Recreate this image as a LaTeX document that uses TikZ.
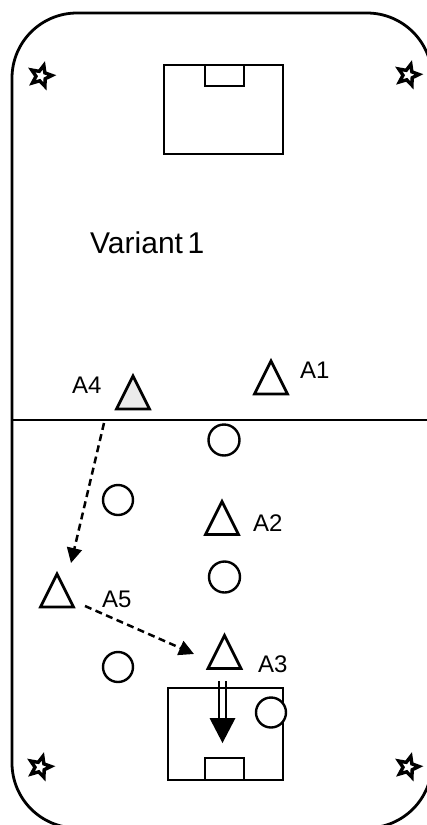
\documentclass[tikz,border=0pt]{standalone}
\usepackage{fontspec}
\setmainfont{Liberation Sans}
\usetikzlibrary{arrows.meta,shapes.geometric}
\begin{document}
\begin{tikzpicture}[x=1pt,y=-1pt,
  thickline/.style={line width=2.8pt},
  boxline/.style={line width=2.8pt, line join=miter},
  player/.style={line width=2.4pt},
  corner/.style={star, star points=5, star point ratio=2.2, draw, fill=white,
    line width=3.4pt, inner sep=0pt, minimum size=22pt, shape border rotate=-15},
  lbl/.style={font=\fontsize{24}{28}\selectfont, anchor=base west, inner sep=0pt},
  pass/.style={line width=2.5pt, dash pattern=on 7pt off 4.5pt,
    -{Triangle[length=15pt,width=15pt]}},
  tri/.pic={\draw[line width=2.7pt, line join=miter, fill=#1]
     (-16.5,16.5) -- (0,-16.5) -- (16.5,16.5) -- cycle;}
]
\useasboundingbox (0,0) rectangle (427,825);
% field
\draw[thickline, rounded corners=65pt] (12,13) rectangle (432,828);
\draw[thickline] (12,420) -- (432,420);
% goal areas
\draw[boxline] (164,65) rectangle (283,154);
\draw[boxline] (205,65) rectangle (244,86);
\draw[boxline] (168,688) rectangle (283,780);
\draw[boxline] (205,758) rectangle (244,780);
% corner stars
\node[corner] (s1) at (41,76) {};
\node[corner] (s2) at (408,75) {};
\node[corner] (s3) at (40,767) {};
\node[corner] (s4) at (408,767) {};
% title
\node[font=\fontsize{30}{36}\selectfont, anchor=base west, inner sep=0pt] (title) at (90,253) {Variant\kern-0.12em\ 1};
% opponents (circles)
\draw[player] (224,440) circle (15.5);
\draw[player] (118,500) circle (15);
\draw[player] (224.5,577) circle (15.5);
\draw[player] (118,667) circle (15);
\draw[player, fill=white] (271,712.5) circle (15);
% attackers (triangles)
\pic at (133,392.5) {tri={black!8}};
\pic at (271,377.5) {tri=white};
\pic at (222,518) {tri=white};
\pic at (57,590.5) {tri=white};
\pic at (224.5,652) {tri=white};
\node[lbl] (a1) at (300,378) {A1};
\node[lbl] (a4) at (72,393) {A4};
\node[lbl] (a2) at (253,531) {A2};
\node[lbl] (a5) at (102,607) {A5};
\node[lbl] (a3) at (258,672) {A3};
% passes
\coordinate (p1s) at (104,423);
\coordinate (p1e) at (71,563);
\coordinate (p2s) at (85,606);
\coordinate (p2e) at (194,654);
\draw[pass] (p1s) -- (p1e);
\draw[pass] (p2s) -- (p2e);
% shot (double-line arrow)
\coordinate (shs) at (222.5,681);
\coordinate (she) at (222.5,743);
\draw[line width=2.2pt] ([xshift=-3.5pt]shs) -- ([xshift=-3.5pt]shs |- 0,721);
\draw[line width=2.2pt] ([xshift=3.5pt]shs) -- ([xshift=3.5pt]shs |- 0,721);
\fill ([xshift=-13pt]she |- 0,718) -- ([xshift=13pt]she |- 0,718) -- (she) -- cycle;
\end{tikzpicture}
\end{document}
